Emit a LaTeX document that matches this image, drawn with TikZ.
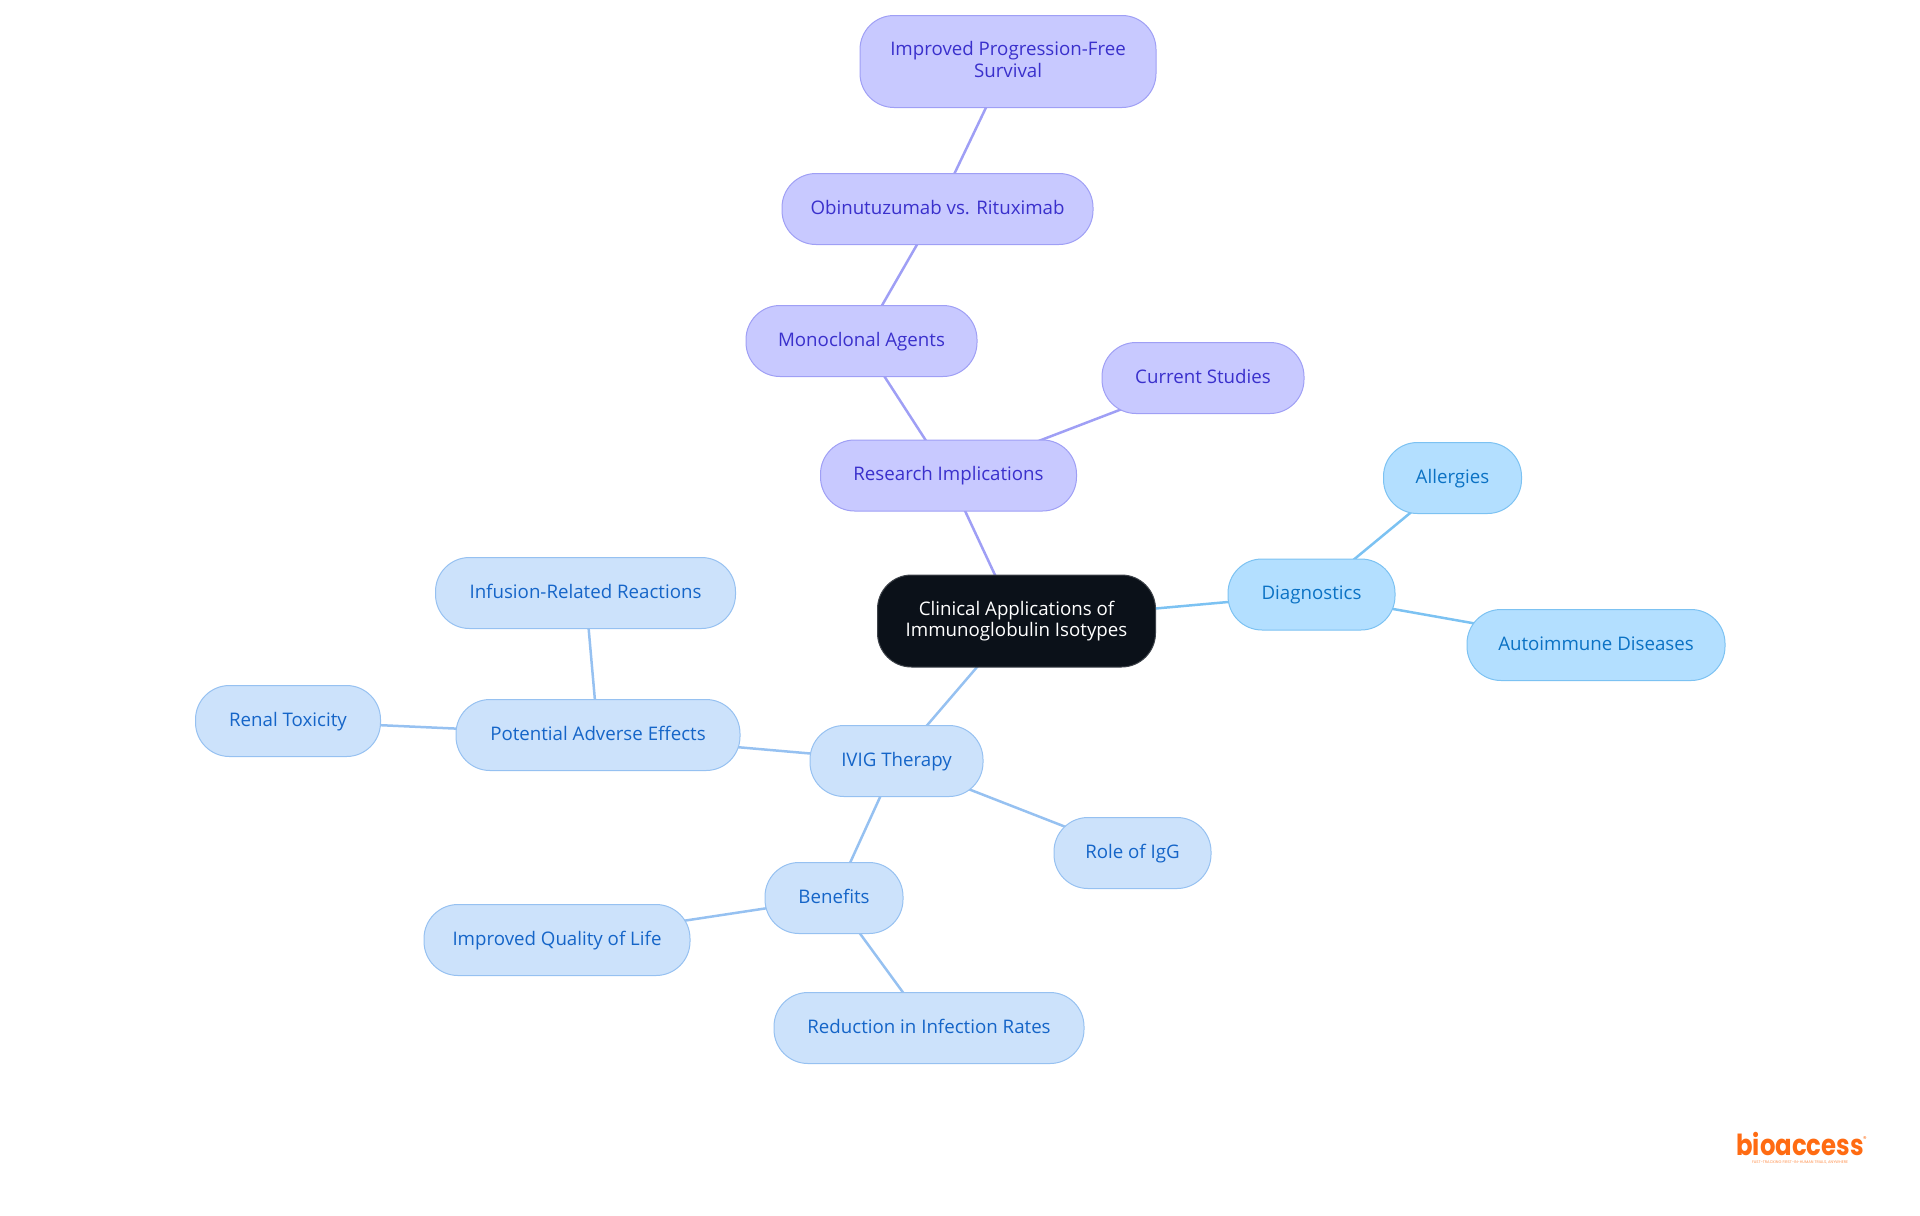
\documentclass[tikz,border=0pt]{standalone}
\usepackage{fontspec}
\setmainfont{Open Sans}
\newfontfamily\logofont{Poppins}
\usepackage{xcolor}
\usetikzlibrary{backgrounds}
\definecolor{rootfill}{HTML}{0B1119}
\definecolor{rootline}{HTML}{3D4249}
\definecolor{skyfill}{HTML}{B3DFFF}
\definecolor{skyline}{HTML}{7CC2F2}
\definecolor{skytext}{HTML}{0B72C4}
\definecolor{bluefill}{HTML}{CCE2FB}
\definecolor{blueline}{HTML}{96C1F1}
\definecolor{bluetext}{HTML}{1565C8}
\definecolor{violetfill}{HTML}{C8C9FF}
\definecolor{violetline}{HTML}{9F9FF5}
\definecolor{violettext}{HTML}{3A30CC}
\definecolor{logoorange}{HTML}{FF6B12}

\begin{document}
\begin{tikzpicture}[x=0.5pt, y=-0.5pt,
    topic/.style={rounded corners=17pt, line width=0.5pt, inner sep=0pt, outer sep=0pt, align=center,
      minimum height=35.5pt, text height=7pt, text depth=2pt, font=\fontsize{9.35}{10.8}\selectfont},
    twolines/.style={minimum height=46pt, text height=17.8pt},
    rootnode/.style={topic, twolines, fill=rootfill, draw=rootline, text=white},
    skynode/.style={topic, fill=skyfill, draw=skyline, text=skytext},
    bluenode/.style={topic, fill=bluefill, draw=blueline, text=bluetext},
    violetnode/.style={topic, fill=violetfill, draw=violetline, text=violettext},
    skyedge/.style={draw=skyline, line width=1.25pt},
    blueedge/.style={draw=blueline, line width=1.25pt},
    violetedge/.style={draw=violetline, line width=1.25pt}]
  \useasboundingbox (0,0) rectangle (1920,1215);
  % Centre
  \node[rootnode, minimum width=139pt] (root) at (1016.5,621) {Clinical Applications of\\Immunoglobulin Isotypes};
  % Diagnostics branch
  \node[skynode, minimum width=83.5pt] (diag) at (1311.5,594.5) {Diagnostics};
  \node[skynode, minimum width=69pt] (allergies) at (1452.5,478) {Allergies};
  \node[skynode, minimum width=129pt] (autoimmune) at (1596,645) {Autoimmune Diseases};
  % Research branch
  \node[violetnode, minimum width=128pt] (research) at (948.5,475.5) {Research Implications};
  \node[violetnode, minimum width=101pt] (studies) at (1203,378) {Current Studies};
  \node[violetnode, minimum width=115.5pt] (monoclonal) at (861.5,341) {Monoclonal Agents};
  \node[violetnode, minimum width=155.5pt] (obinu) at (937.5,209) {Obinutuzumab vs. Rituximab};
  \node[violetnode, twolines, minimum width=148pt] (pfs) at (1008,61.5) {Improved Progression-Free\\Survival};
  % IVIG branch
  \node[bluenode, minimum width=86.5pt] (ivig) at (896.5,761) {IVIG Therapy};
  \node[bluenode, minimum width=142pt] (adverse) at (598,735) {Potential Adverse Effects};
  \node[bluenode, minimum width=150pt] (infusion) at (585.5,593) {Infusion-Related Reactions};
  \node[bluenode, minimum width=92.5pt] (renal) at (288,721) {Renal Toxicity};
  \node[bluenode, minimum width=78.5pt] (role) at (1132.5,853) {Role of IgG};
  \node[bluenode, minimum width=69pt] (benefits) at (834,898) {Benefits};
  \node[bluenode, minimum width=133pt] (quality) at (557,940) {Improved Quality of Life};
  \node[bluenode, minimum width=155pt] (reduction) at (929,1028) {Reduction in Infection Rates};
  % Logo
  \node[inner sep=0pt, text=logoorange, xscale=0.84, transform shape, font=\logofont\bfseries\fontsize{14.5}{15}\selectfont] (logo) at (1800,1144) {bioaccess};
  \node[inner sep=0pt, text=logoorange, font=\logofont\fontsize{3.5}{4}\selectfont] (logoreg) at (1865,1139) {®};
  \node[inner sep=0pt, text=logoorange!75, font=\logofont\fontsize{1.9}{2}\selectfont] (tagline) at (1800,1162) {FAST-TRACKING FIRST-IN-HUMAN TRIALS, ANYWHERE};
  % Connectors
  \begin{scope}[on background layer]
    \path[skyedge] (root.center) edge (diag.center);
    \path[skyedge] (diag.center) edge (allergies.center);
    \path[skyedge] (diag.center) edge (autoimmune.center);
    \path[violetedge] (root.center) edge (research.center);
    \path[violetedge] (research.center) edge (studies.center);
    \path[violetedge] (research.center) edge (monoclonal.center);
    \path[violetedge] (monoclonal.center) edge (obinu.center);
    \path[violetedge] (obinu.center) edge (pfs.center);
    \path[blueedge] (root.center) edge (ivig.center);
    \path[blueedge] (ivig.center) edge (adverse.center);
    \path[blueedge] (adverse.center) edge (infusion.center);
    \path[blueedge] (adverse.center) edge (renal.center);
    \path[blueedge] (ivig.center) edge (role.center);
    \path[blueedge] (ivig.center) edge (benefits.center);
    \path[blueedge] (benefits.center) edge (quality.center);
    \path[blueedge] (benefits.center) edge (reduction.center);
  \end{scope}
\end{tikzpicture}
\end{document}
